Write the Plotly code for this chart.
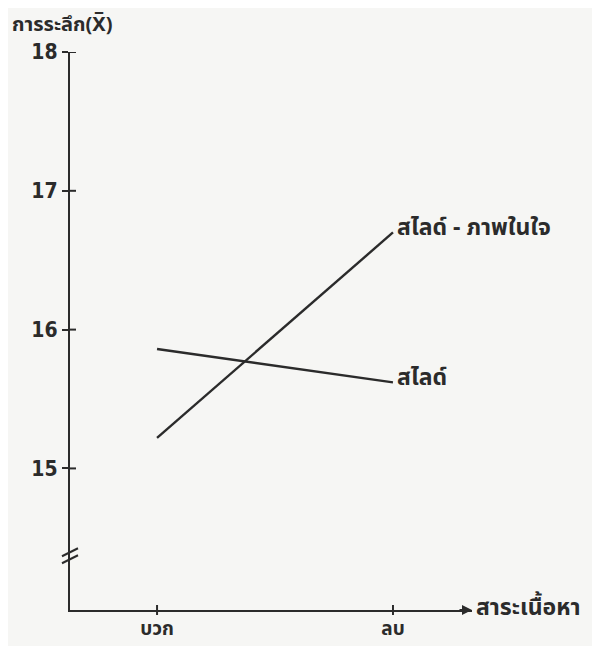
import plotly.graph_objects as go

# ---- data ----
categories = ["บวก", "ลบ"]
series_names = ["สไลด์", "สไลด์ - ภาพในใจ"]
slide_values = [15.86, 15.62]
slide_imagery_values = [15.22, 16.70]
y_tick_values = [15, 16, 17, 18]
y_tick_labels = ["15", "16", "17", "18"]
x_title = "สาระเนื้อหา"
y_title = "การระลึก(X̅)"

x_pos = list(range(len(categories)))
ink = "#2b2b2b"
num_font = "Liberation Sans Narrow, DejaVu Sans Condensed, Roboto, sans-serif"
thai_font = "Noto Sans Thai, Loma, Garuda, Tlwg Typo, Noto Sans, sans-serif"
bg = "#f6f6f4"

fig = go.Figure()
for name, vals in zip(series_names, [slide_values, slide_imagery_values]):
    fig.add_trace(go.Scatter(
        x=x_pos, y=vals, mode="lines", name=name,
        line=dict(color=ink, width=2.4), showlegend=False,
    ))
    fig.add_annotation(
        x=x_pos[-1], y=vals[-1], xref="x", yref="y", text="<b>" + name + "</b>",
        showarrow=False, xanchor="left", yanchor="middle", xshift=2, yshift=4,
        font=dict(family=thai_font, size=23, color=ink),
    )

fig.update_layout(
    width=592, height=638,
    margin=dict(l=62, r=128, t=44, b=36, autoexpand=False),
    paper_bgcolor=bg, plot_bgcolor=bg,
    xaxis=dict(
        range=[-0.369, 1.335], tickvals=x_pos, automargin=False,
        ticktext=["<b>" + c + "</b>" for c in categories],
        showline=True, linecolor=ink, linewidth=2.4, showgrid=False, zeroline=False,
        ticks="", tickfont=dict(family=thai_font, size=19, color=ink),
    ),
    yaxis=dict(
        range=[13.98, 18], tickvals=y_tick_values, automargin=False,
        ticktext=["<b>" + t + "</b>" for t in y_tick_labels],
        showline=True, linecolor=ink, linewidth=2.4, showgrid=False, zeroline=False,
        ticks="outside", ticklen=6, tickwidth=2, tickcolor=ink,
        tickfont=dict(family=num_font, size=21, color=ink),
    ),
)

# inside portion of y ticks (ticks cross the axis)
for v in y_tick_values:
    fig.add_shape(type="line", xref="paper", yref="y", xsizemode="pixel", xanchor=0,
                  x0=0, x1=6, y0=v, y1=v, line=dict(color=ink, width=2))
# crossing x ticks
for p in x_pos:
    fig.add_shape(type="line", xref="x", yref="paper", ysizemode="pixel", yanchor=0,
                  x0=p, x1=p, y0=-5, y1=5, line=dict(color=ink, width=2))

# axis break mark on y axis
for dy in (0, 7):
    fig.add_shape(type="line", xref="paper", yref="y", xsizemode="pixel", ysizemode="pixel",
                  xanchor=0, yanchor=14.36, x0=-8, x1=8, y0=-6 + dy, y1=2 + dy,
                  line=dict(color=ink, width=2))

# arrow at end of x axis
fig.add_annotation(x=1, y=0, xref="paper", yref="paper", ax=-14, ay=0,
                   showarrow=True, arrowhead=2, arrowsize=1, arrowwidth=2,
                   arrowcolor=ink, text="")
fig.add_annotation(x=1, y=0, xref="paper", yref="paper", text="<b>" + x_title + "</b>",
                   showarrow=False, xanchor="left", yanchor="middle", xshift=2, yshift=2,
                   font=dict(family=thai_font, size=23, color=ink))
fig.add_annotation(x=0, y=1, xref="paper", yref="paper", text="<b>" + y_title + "</b>",
                   showarrow=False, xanchor="left", yanchor="middle",
                   xshift=-60, yshift=27,
                   font=dict(family=thai_font, size=20, color=ink))

fig.write_html("out.html")
